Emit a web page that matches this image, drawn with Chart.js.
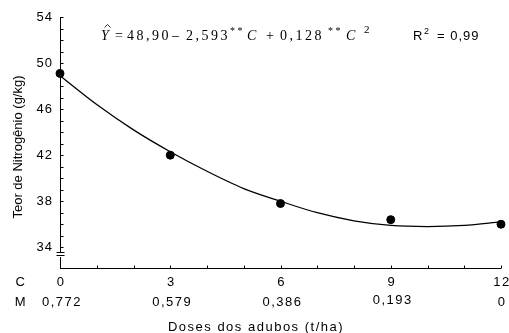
<!DOCTYPE html>
<html>
<head>
<meta charset="utf-8">
<script src="https://cdn.jsdelivr.net/npm/chart.js@4"></script>
<style>
  body { margin: 0; background: #fff; }
  canvas { display: block; }
</style>
</head>
<body>
<canvas id="chart" width="509" height="333"></canvas>
<script>
// Observed points
const doses = [0, 3, 6, 9, 12];
const teorN = [49.1, 42.0, 37.8, 36.4, 36.0];

// Fitted curve
const curveC = [0, 1, 2, 3, 4, 5, 6, 7, 8, 9, 10, 11, 12];
const curveY = [48.9, 46.4, 44.2, 42.3, 40.6, 39.1, 38.0, 37.0, 36.3, 35.9, 35.8, 35.9, 36.2];

// Axis labels
const yTicks = [34, 38, 42, 46, 50, 54];
const cTicks = [0, 3, 6, 9, 12];
const cLabels = ['0', '3', '6', '9', '12'];
const mLabels = ['0,772', '0,579', '0,386', '0,193', '0'];

const SANS = "'Liberation Sans', Arial, sans-serif";
const SERIF = "'Liberation Serif', 'Times New Roman', serif";

const axesPlugin = {
  id: 'axes',
  afterDraw(chart) {
    const ctx = chart.ctx;
    const xs = chart.scales.x;
    const ys = chart.scales.y;
    const left = chart.chartArea.left;
    const right = chart.chartArea.right;
    const bottom = chart.chartArea.bottom;
    const top = chart.chartArea.top;

    ctx.save();
    ctx.strokeStyle = '#000';
    ctx.lineWidth = 1;

    // y axis with break
    const bx = Math.round(left) + 0.5;
    ctx.beginPath();
    ctx.moveTo(bx, top);
    ctx.lineTo(bx, bottom - 15);
    ctx.moveTo(bx, bottom - 11);
    ctx.lineTo(bx, bottom);
    ctx.moveTo(bx - 4, bottom - 15.5);
    ctx.lineTo(bx + 4, bottom - 15.5);
    ctx.moveTo(bx - 4, bottom - 12.5);
    ctx.lineTo(bx + 4, bottom - 12.5);
    ctx.stroke();

    // x axis
    const by = Math.round(bottom) + 0.5;
    ctx.beginPath();
    ctx.moveTo(left, by);
    ctx.lineTo(right, by);
    ctx.stroke();

    // y minor ticks
    ctx.beginPath();
    for (let v = 34; v <= 54; v++) {
      const py = Math.round(ys.getPixelForValue(v)) + 0.5;
      ctx.moveTo(bx, py);
      ctx.lineTo(bx + 3, py);
    }
    // x ticks
    for (let v = 0; v <= 12; v++) {
      const px = Math.round(xs.getPixelForValue(v)) + 0.5;
      ctx.moveTo(px, by);
      ctx.lineTo(px, by - 3);
    }
    ctx.stroke();

    ctx.fillStyle = '#000';
    ctx.font = '13px ' + SANS;
    ctx.letterSpacing = '1px';

    // y tick labels
    ctx.textAlign = 'right';
    ctx.textBaseline = 'middle';
    yTicks.forEach(v => {
      ctx.fillText(String(v), left - 7, ys.getPixelForValue(v));
    });

    // x tick labels (C and M rows)
    ctx.textAlign = 'center';
    ctx.letterSpacing = '1.5px';
    ctx.fillText('C', 21, 282);
    ctx.fillText('M', 21, 302);
    cTicks.forEach((v, i) => {
      const px = xs.getPixelForValue(v);
      ctx.fillText(cLabels[i], px + 1, 282);
      ctx.fillText(mLabels[i], px + (i === 4 ? 1 : 2), i === 3 ? 300 : 302);
    });

    // axis titles
    ctx.fillText('Doses dos adubos (t/ha)', 256, 327);
    ctx.letterSpacing = '0px';
    ctx.save();
    ctx.translate(18, 147);
    ctx.rotate(-Math.PI / 2);
    ctx.fillText('Teor de Nitrogênio (g/kg)', 0, 0);
    ctx.restore();

    // regression equation
    ctx.textAlign = 'left';
    ctx.textBaseline = 'alphabetic';
    const base = 40;
    ctx.letterSpacing = '2.5px';
    ctx.font = 'italic 14px ' + SERIF;
    ctx.fillText('Y', 101, base);
    // hat over Y
    ctx.lineWidth = 0.8;
    ctx.beginPath();
    ctx.moveTo(104.5, 27.5);
    ctx.lineTo(107.5, 24.5);
    ctx.lineTo(110.5, 27.5);
    ctx.stroke();
    ctx.font = '14px ' + SERIF;
    ctx.fillText('=', 115, base);
    ctx.fillText('48,90', 127, base);
    ctx.fillText('\u2013', 172, base);
    ctx.fillText('2,593', 186, base);
    ctx.font = '10px ' + SERIF;
    ctx.fillText('**', 230, base - 6);
    ctx.font = 'italic 14px ' + SERIF;
    ctx.fillText('C', 247, base);
    ctx.font = '14px ' + SERIF;
    ctx.fillText('+', 266, base);
    ctx.fillText('0,128', 280, base);
    ctx.font = '10px ' + SERIF;
    ctx.fillText('**', 328, base - 6);
    ctx.font = 'italic 14px ' + SERIF;
    ctx.fillText('C', 346, base);
    ctx.font = '11px ' + SERIF;
    ctx.fillText('2', 364, base - 7);

    ctx.letterSpacing = '1px';
    ctx.font = '13px ' + SANS;
    ctx.fillText('R', 413, base);
    ctx.font = '9px ' + SANS;
    ctx.fillText('2', 424, base - 6);
    ctx.font = '13px ' + SANS;
    ctx.fillText('= 0,99', 437, base);

    ctx.restore();
  }
};

new Chart(document.getElementById('chart'), {
  type: 'scatter',
  data: {
    datasets: [
      {
        label: 'Ajuste',
        data: curveC.map((c, i) => ({ x: c, y: curveY[i] })),
        showLine: true,
        borderColor: '#000',
        borderWidth: 1.3,
        pointRadius: 0,
        tension: 0.4,
        cubicInterpolationMode: 'monotone',
        clip: false,
        order: 2
      },
      {
        label: 'Observado',
        data: doses.map((d, i) => ({ x: d, y: teorN[i] })),
        backgroundColor: '#000',
        borderColor: '#000',
        pointRadius: 4,
        clip: false,
        order: 1
      }
    ]
  },
  options: {
    responsive: false,
    animation: false,
    layout: { padding: { left: 60, right: 8, top: 17, bottom: 65 } },
    plugins: { legend: { display: false }, tooltip: { enabled: false } },
    scales: {
      x: { type: 'linear', min: 0, max: 12, display: false },
      y: { type: 'linear', min: 32.2, max: 54, display: false }
    }
  },
  plugins: [axesPlugin]
});
</script>
</body>
</html>
